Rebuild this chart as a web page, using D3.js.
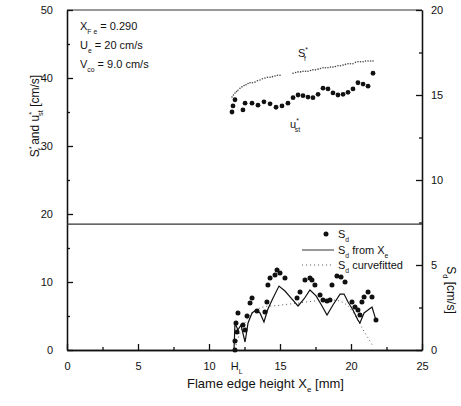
<!DOCTYPE html>
<html>
<head>
<meta charset="utf-8">
<script src="https://cdn.jsdelivr.net/npm/d3@7"></script>
<style>
  body { margin: 0; background: #fff; }
  svg { font-family: "Liberation Sans", Arial, sans-serif; }
  .axis path, .axis line { stroke: #111; stroke-width: 1.3; }
  .axis text { font-size: 11px; fill: #111; }
</style>
</head>
<body>
<div id="chart"></div>
<script>
// data
var xTicks = [0, 5, 10, 15, 20, 25];
var xMinor = [2.5, 7.5, 12.5, 17.5, 22.5];
var leftTicks = [0, 10, 20, 30, 40, 50];
var leftMinor = [5, 15, 25, 35, 45];
var rightTicks = [0, 5, 10, 15, 20];
var rightMinor = [2.5, 7.5, 12.5, 17.5];
var dividerLevel = 18.5;
var hL = 11.6;

// upper panel, left axis (cm/s)
var ustX = [11.62, 11.69, 11.83, 12.39, 12.54, 13.03, 13.45, 13.87, 14.30, 14.72, 15.14, 15.56, 15.92, 16.27, 16.62, 16.97, 17.32, 17.68, 18.03, 18.38, 18.73, 19.08, 19.44, 19.79, 20.14, 20.49, 20.85, 21.20, 21.55];
var ustY = [35.0, 35.9, 36.8, 35.3, 36.3, 36.3, 36.0, 36.5, 36.2, 35.7, 35.9, 36.3, 37.1, 37.5, 37.4, 37.2, 37.1, 37.6, 38.5, 38.4, 37.8, 37.5, 37.6, 37.9, 38.4, 39.3, 39.1, 38.8, 40.7];

var sfX = [11.62, 11.72, 11.83, 11.94, 12.04, 12.18, 12.32, 12.47, 12.61, 12.75, 12.89, 13.06, 13.24, 13.41, 13.59, 13.76, 13.94, 14.12, 14.30, 14.47, 14.65, 14.82, 15.00, 15.92, 16.10, 16.27, 16.45, 16.62, 16.80, 16.97, 17.15, 17.32, 17.50, 17.68, 17.85, 18.03, 18.20, 18.38, 18.55, 18.73, 18.90, 19.08, 19.26, 19.44, 19.61, 19.79, 19.96, 20.14, 20.31, 20.49, 20.67, 20.85, 21.02, 21.20, 21.38, 21.55];
var sfY = [37.2, 37.5, 37.8, 38.0, 38.2, 38.5, 38.7, 38.9, 39.0, 39.2, 39.3, 39.3, 39.4, 39.6, 39.7, 39.9, 40.0, 40.1, 40.1, 40.2, 40.3, 40.4, 40.4, 40.7, 40.8, 40.9, 40.9, 41.0, 41.0, 41.0, 41.1, 41.2, 41.2, 41.3, 41.4, 41.5, 41.5, 41.5, 41.6, 41.6, 41.7, 41.8, 41.8, 41.9, 42.0, 42.1, 42.1, 42.1, 42.3, 42.4, 42.4, 42.4, 42.5, 42.5, 42.5, 42.5];

// lower panel, right axis (cm/s)
var sdX = [11.83, 11.83, 11.90, 11.97, 12.04, 12.39, 12.54, 12.68, 12.89, 13.03, 13.38, 13.94, 14.08, 14.15, 14.30, 14.65, 14.79, 15.00, 15.35, 16.20, 16.41, 16.76, 17.11, 17.25, 17.46, 17.82, 18.03, 18.31, 18.52, 18.66, 19.01, 19.30, 19.58, 20.07, 20.28, 20.49, 20.63, 20.77, 20.92, 21.20, 21.48, 21.76];
var sdY = [0.0, 0.53, 1.59, 1.06, 2.18, 1.47, 1.18, 2.0, 2.76, 3.06, 2.29, 2.24, 2.82, 3.82, 4.24, 4.41, 4.71, 4.53, 4.24, 3.06, 3.41, 4.12, 4.24, 4.12, 3.82, 3.24, 2.94, 2.88, 2.94, 3.82, 4.35, 4.29, 4.0, 2.82, 2.53, 2.35, 2.06, 2.82, 3.12, 3.41, 3.12, 1.76];

var fromXeX = [11.76, 11.83, 12.04, 12.25, 12.54, 12.75, 13.03, 13.31, 13.59, 13.87, 14.15, 14.51, 14.93, 15.35, 15.77, 16.27, 16.69, 17.11, 17.54, 17.96, 18.31, 18.73, 19.23, 19.51, 19.79, 20.14, 20.49, 20.63, 20.92, 21.20, 21.48, 21.76];
var fromXeY = [0.0, 1.59, 1.18, 1.47, 0.47, 1.59, 2.18, 2.35, 2.18, 1.65, 2.41, 3.06, 3.76, 3.47, 3.06, 2.59, 3.0, 3.53, 3.18, 2.59, 2.06, 2.65, 3.29, 3.29, 2.82, 2.35, 1.76, 1.59, 2.18, 2.35, 2.53, 1.76];

var fitX = [11.90, 12.18, 12.54, 12.89, 13.31, 13.73, 14.15, 14.65, 15.14, 15.70, 16.27, 16.83, 17.39, 17.96, 18.52, 19.08, 19.58, 20.07, 20.49, 20.85, 21.20, 21.55];
var fitY = [0.29, 1.06, 1.65, 2.06, 2.35, 2.53, 2.59, 2.59, 2.65, 2.71, 2.76, 2.82, 2.88, 2.94, 2.94, 2.94, 2.76, 2.35, 1.76, 1.18, 0.71, 0.24];

var width = 461, height = 406;
var margin = {left: 67, right: 39, top: 10, bottom: 56};

var svg = d3.select('#chart').append('svg').attr('width', width).attr('height', height);

var x = d3.scaleLinear().domain([0, 25]).range([margin.left, width - margin.right]);
var yL = d3.scaleLinear().domain([0, 50]).range([height - margin.bottom, margin.top]);
var yR = d3.scaleLinear().domain([0, 20]).range([height - margin.bottom, margin.top]);

var x0 = x(0), x1 = x(25), yb = yL(0), yt = yL(50);

// frame: top border
svg.append('line').attr('x1', x0).attr('x2', x1).attr('y1', yt).attr('y2', yt)
    .attr('stroke', '#333').attr('stroke-width', 1);

// axes (ticks point inwards)
svg.append('g').attr('class', 'axis').attr('transform', 'translate(0,' + yb + ')')
    .call(d3.axisBottom(x).tickValues(xTicks).tickSize(-6).tickSizeOuter(0).tickPadding(12).tickFormat(d3.format('d')));
svg.append('g').attr('class', 'axis').attr('transform', 'translate(0,' + yb + ')')
    .call(d3.axisBottom(x).tickValues(xMinor).tickSize(-3).tickSizeOuter(0).tickFormat(''));

svg.append('g').attr('class', 'axis').attr('transform', 'translate(' + x0 + ',0)')
    .call(d3.axisLeft(yL).tickValues(leftTicks).tickSize(-6).tickSizeOuter(0).tickPadding(14));
svg.append('g').attr('class', 'axis').attr('transform', 'translate(' + x0 + ',0)')
    .call(d3.axisLeft(yL).tickValues(leftMinor).tickSize(-3).tickSizeOuter(0).tickFormat(''));

svg.append('g').attr('class', 'axis').attr('transform', 'translate(' + x1 + ',0)')
    .call(d3.axisRight(yR).tickValues(rightTicks).tickSize(-6).tickSizeOuter(0).tickPadding(9));
svg.append('g').attr('class', 'axis').attr('transform', 'translate(' + x1 + ',0)')
    .call(d3.axisRight(yR).tickValues(rightMinor).tickSize(-3).tickSizeOuter(0).tickFormat(''));

// divider between the two panels
svg.append('line').attr('x1', x0).attr('x2', x1)
    .attr('y1', yL(dividerLevel)).attr('y2', yL(dividerLevel))
    .attr('stroke', '#333').attr('stroke-width', 1.2);

// upper panel marks
svg.append('g').selectAll('circle').data(sfX).join('circle')
    .attr('cx', function(d){ return x(d); })
    .attr('cy', function(d, i){ return yL(sfY[i]); })
    .attr('r', 0.8).attr('fill', '#444');

svg.append('g').selectAll('circle').data(ustX).join('circle')
    .attr('cx', function(d){ return x(d); })
    .attr('cy', function(d, i){ return yL(ustY[i]); })
    .attr('r', 2.4).attr('fill', '#111');

// lower panel marks
var fitLine = d3.line().x(function(d){ return x(d); }).y(function(d, i){ return yR(fitY[i]); }).curve(d3.curveBasis);
svg.append('path').attr('d', fitLine(fitX))
    .attr('fill', 'none').attr('stroke', '#555').attr('stroke-width', 1).attr('stroke-dasharray', '1,3');

var xeLine = d3.line().x(function(d){ return x(d); }).y(function(d, i){ return yR(fromXeY[i]); });
svg.append('path').attr('d', xeLine(fromXeX))
    .attr('fill', 'none').attr('stroke', '#111').attr('stroke-width', 1.2);

svg.append('g').selectAll('circle').data(sdX).join('circle')
    .attr('cx', function(d){ return x(d); })
    .attr('cy', function(d, i){ return yR(sdY[i]); })
    .attr('r', 2.5).attr('fill', '#111');

// helper for text with sub/superscripts: parts = [[text, 'n'|'sub'|'sup', dx]]
function richText(g, px, py, parts, size, anchor) {
    var t = g.append('text').attr('x', px).attr('y', py)
        .style('font-size', size + 'px').attr('fill', '#111')
        .attr('text-anchor', anchor || 'start');
    var level = 0;
    parts.forEach(function(p){
        var target = p[1] == 'sub' ? 4 : (p[1] == 'sup' ? -5 : 0);
        var s = t.append('tspan').text(p[0]).attr('dy', target - level);
        if (p[1] != 'n') s.style('font-size', (size * 0.62) + 'px');
        if (p[2]) s.attr('dx', p[2]);
        level = target;
    });
    return t;
}

// condition notes
richText(svg, 80, 30, [['X', 'n'], ['F e', 'sub'], [' = 0.290', 'n']], 11);
richText(svg, 80, 49, [['U', 'n'], ['e', 'sub'], [' = 20 cm/s', 'n']], 11);
richText(svg, 80, 68, [['V', 'n'], ['co', 'sub'], [' = 9.0 cm/s', 'n']], 11);

// curve labels
richText(svg, 298, 57, [['S', 'n'], ['*', 'sup'], ['f', 'sub', -4]], 11);
richText(svg, 290, 128, [['u', 'n'], ['*', 'sup'], ['st', 'sub', -4]], 11);

// legend of lower panel
var lg = svg.append('g');
lg.append('circle').attr('cx', 326).attr('cy', 234).attr('r', 2.5).attr('fill', '#111');
richText(lg, 338, 238, [['S', 'n'], ['d', 'sub']], 11);
lg.append('line').attr('x1', 302).attr('x2', 334).attr('y1', 250).attr('y2', 250)
    .attr('stroke', '#333').attr('stroke-width', 1);
richText(lg, 338, 254, [['S', 'n'], ['d', 'sub'], [' from X', 'n'], ['e', 'sub']], 11);
lg.append('line').attr('x1', 302).attr('x2', 334).attr('y1', 265).attr('y2', 265)
    .attr('stroke', '#555').attr('stroke-width', 1).attr('stroke-dasharray', '1,3');
richText(lg, 338, 269, [['S', 'n'], ['d', 'sub'], [' curvefitted', 'n']], 11);

// H_L marker under the axis
richText(svg, x(hL) - 1, 370, [['H', 'n'], ['L', 'sub']], 11, 'start');

// axis titles
richText(svg, 187, 388, [['Flame edge height X', 'n'], ['e', 'sub'], ['  [mm]', 'n']], 13);

var leftTitle = svg.append('g').attr('transform', 'translate(39,116) rotate(-90)');
richText(leftTitle, 0, 0, [['S', 'n'], ['*', 'sup'], ['f', 'sub', -4], [' and u', 'n'], ['*', 'sup'], ['st', 'sub', -4], ['  [cm/s]', 'n']], 12, 'middle');

var rightTitle = svg.append('g').attr('transform', 'translate(447,290) rotate(90)');
richText(rightTitle, 0, 0, [['S', 'n'], ['d', 'sub'], ['  [cm/s]', 'n']], 12, 'middle');
</script>
</body>
</html>
